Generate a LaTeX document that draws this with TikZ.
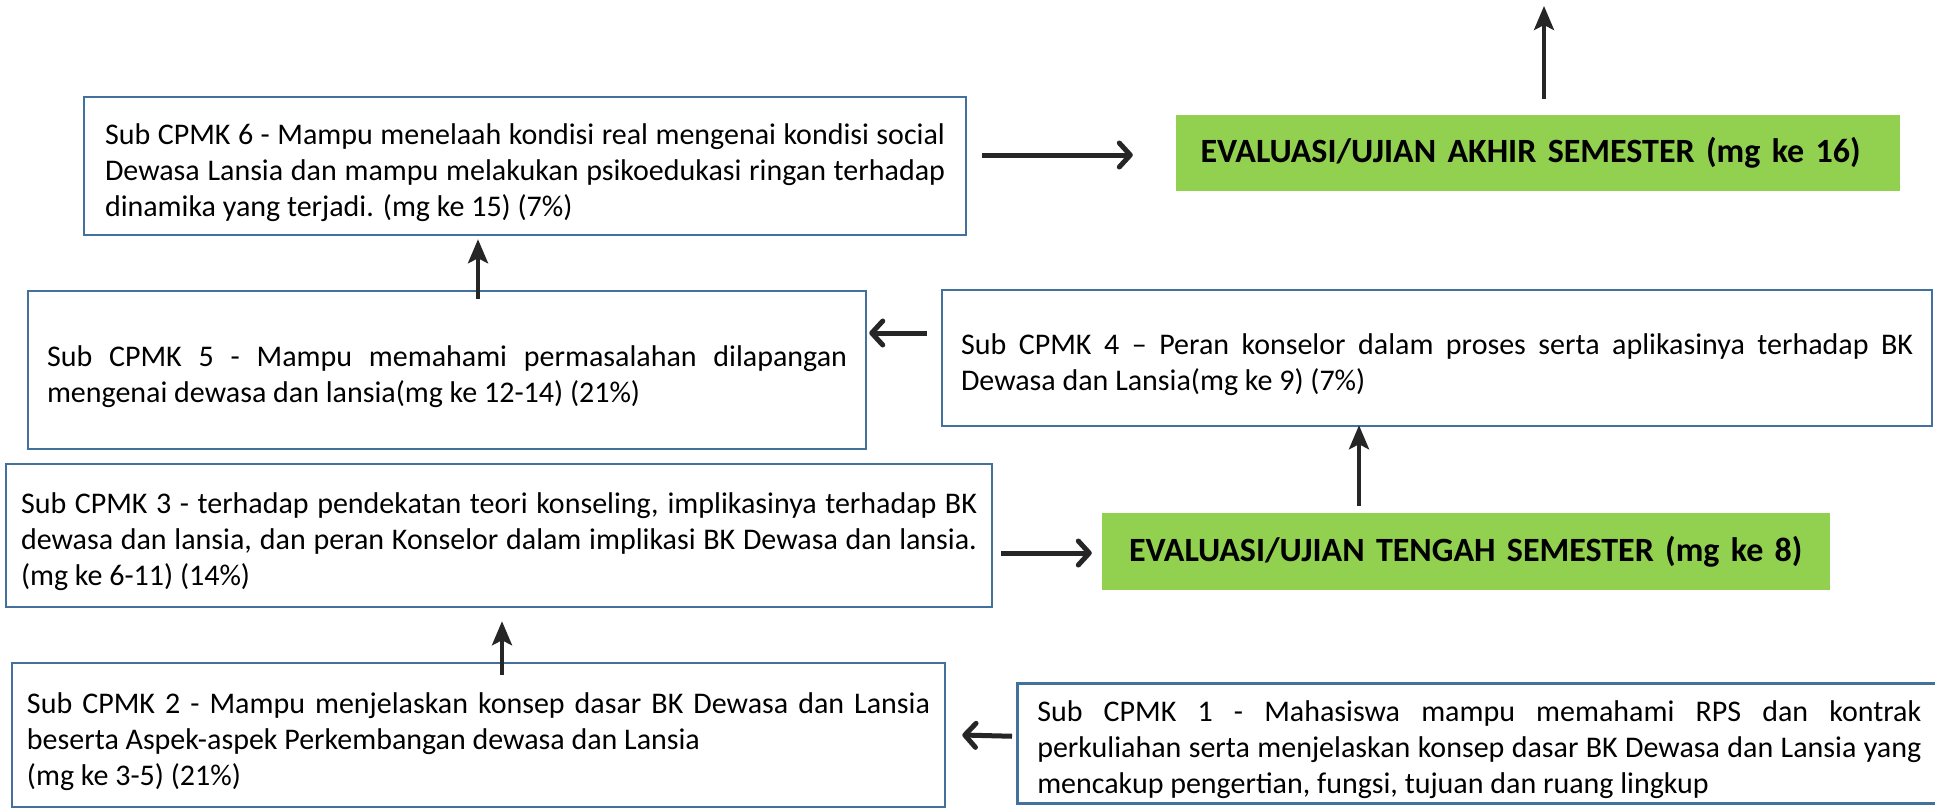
\documentclass[tikz,border=0pt]{standalone}
\usepackage{fontspec}
\setmainfont{Carlito}
\usetikzlibrary{arrows.meta}
\definecolor{boxline}{HTML}{41719C}
\definecolor{evalgreen}{HTML}{92D050}
\definecolor{arrowgray}{HTML}{262626}
\newcommand{\nohyph}{\hyphenpenalty=10000\relax\exhyphenpenalty=10000\relax}
\tikzset{
    sub-box/.style = {draw=boxline, fill=white, line width=2.5pt, rectangle, inner xsep=15pt, inner ysep=0pt, align=justify, font=\fontsize{30}{36}\selectfont\nohyph, execute at begin node={\rule{0pt}{34pt}}},
    eval-box/.style = {fill=evalgreen, rectangle, inner ysep=0pt, align=left, font=\fontsize{34}{40}\selectfont\bfseries},
    side-arrow/.style = {draw=arrowgray, line width=5pt, -{Straight Barb[length=11pt,width=24pt,line cap=round,line join=round]}},
    up-arrow/.style = {draw=arrowgray, line width=4pt, -{Stealth[length=24pt,width=20pt,inset=5pt]}},
}

\begin{document}
\begin{tikzpicture}[x=1pt,y=-1pt]
\path[use as bounding box, fill=white] (0,0) rectangle (1935,811);

\node[sub-box, text width=840pt, minimum width=882pt, minimum height=138pt] (cpmk6) at (525,166) {Sub CPMK 6 - Mampu menelaah kondisi real mengenai kondisi social\linebreak Dewasa Lansia dan mampu melakukan psikoedukasi ringan terhadap\linebreak dinamika yang terjadi. (mg ke 15) (7\%)};
\node[eval-box, text width=675pt, inner xsep=24.5pt, minimum height=76pt] (eas) at (1538,153) {EVALUASI/UJIAN AKHIR SEMESTER (mg ke 16)};
\node[sub-box, text width=800pt, minimum width=838pt, minimum height=158pt] (cpmk5) at (447,370) {Sub CPMK 5 - Mampu memahami permasalahan dilapangan\linebreak mengenai dewasa dan lansia(mg ke 12-14) (21\%)};
\node[sub-box, text width=952pt, minimum width=990pt, minimum height=136pt] (cpmk4) at (1437,358) {Sub CPMK 4 -- Peran konselor dalam proses serta aplikasinya terhadap BK\linebreak Dewasa dan Lansia(mg ke 9) (7\%)};
\node[sub-box, text width=956pt, minimum height=143pt] (cpmk3) at (499,535.5) {Sub CPMK 3 - terhadap pendekatan teori konseling, implikasinya terhadap BK\linebreak dewasa dan lansia, dan peran Konselor dalam implikasi BK Dewasa dan lansia.\linebreak (mg ke 6-11) (14\%)};
\node[eval-box, text width=674pt, inner xsep=27pt, minimum height=77pt] (ets) at (1466,551.5) {EVALUASI/UJIAN TENGAH SEMESTER (mg ke 8)};
\node[sub-box, text width=903pt, minimum height=144pt] (cpmk2) at (478.5,735) {Sub CPMK 2 - Mampu menjelaskan konsep dasar BK Dewasa dan Lansia\linebreak beserta Aspek-aspek Perkembangan dewasa dan Lansia\newline (mg ke 3-5) (21\%)};
\node[sub-box, anchor=north west, text width=884pt, inner xsep=20pt, minimum height=120pt] (cpmk1) at (1016,682) {Sub CPMK 1 - Mahasiswa mampu memahami RPS dan kontrak\linebreak perkuliahan serta menjelaskan konsep dasar BK Dewasa dan Lansia yang\linebreak mencakup pengertian, fungsi, tujuan dan ruang lingkup};
\coordinate (top) at (1544,6);

\draw[side-arrow] ([xshift=-4pt,yshift=7pt]cpmk1.west) -- ([xshift=16pt]cpmk2.east);
\draw[up-arrow] ([xshift=23.5pt,yshift=-13pt]cpmk2.north) -- ([xshift=3pt,yshift=-13pt]cpmk3.south);
\draw[side-arrow] ([xshift=8pt,yshift=-17.5pt]cpmk3.east) -- ([xshift=-10pt,yshift=-1.5pt]ets.west);
\draw[up-arrow] ([xshift=-107pt,yshift=7pt]ets.north) -- ([xshift=-78pt,yshift=2pt]cpmk4.south);
\draw[side-arrow] ([xshift=-14pt,yshift=25pt]cpmk4.west) -- ([xshift=2pt,yshift=37pt]cpmk5.east);
\draw[up-arrow] ([xshift=31pt,yshift=-9pt]cpmk5.north) -- ([xshift=-47pt,yshift=-3pt]cpmk6.south);
\draw[side-arrow] ([xshift=15pt,yshift=11pt]cpmk6.east) -- ([xshift=-43pt,yshift=-2pt]eas.west);
\draw[up-arrow] ([xshift=6pt,yshift=16pt]eas.north) -- (top);
\end{tikzpicture}
\end{document}
